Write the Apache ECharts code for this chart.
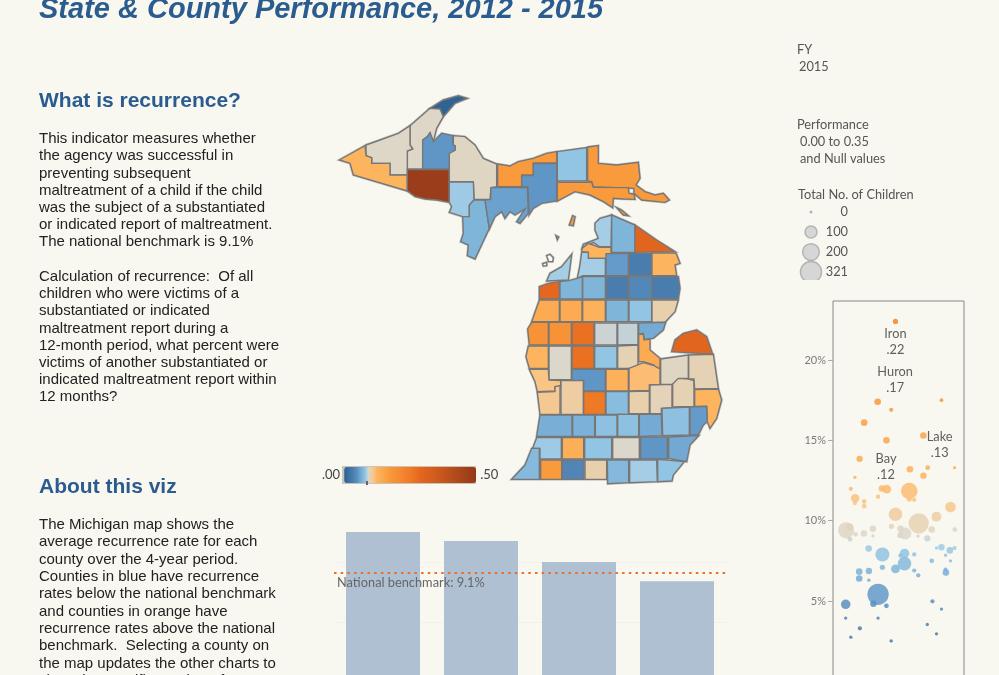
<!DOCTYPE html>
<html><head><meta charset="utf-8">
<style>html,body{margin:0;padding:0;background:#f8f7f0}#c{width:999px;height:675px}</style>
<script src="https://cdn.jsdelivr.net/npm/echarts@6/dist/echarts.min.js"></script></head>
<body><div id="c"></div>
<script>
const BG='#f8f7f0', BLUE='#2b5c8f';
// ---- text
const titleText='State & County Performance, 2012 - 2015';
const heading1='What is recurrence?', heading2='About this viz';
const para1Lines=['This indicator measures whether','the agency was successful in','preventing subsequent','maltreatment of a child if the child','was the subject of a substantiated','or indicated report of maltreatment.','The national benchmark is 9.1%','','Calculation of recurrence:  Of all','children who were victims of a','substantiated or indicated','maltreatment report during a','12-month period, what percent were','victims of another substantiated or','indicated maltreatment report within','12 months?'];
const para2Lines=['The Michigan map shows the','average recurrence rate for each','county over the 4-year period.','Counties in blue have recurrence','rates below the national benchmark','and counties in orange have','recurrence rates above the national','benchmark.  Selecting a county on','the map updates the other charts to','show the specific numbers for'];
// ---- colour scale (rate, colour)
const scaleRates=[0,.02,.035,.05,.065,.08,.086,.089,.092,.1,.11,.125,.17,.25,.29,.35,.5];
const scaleColors=['#2a5c90','#3f73a5','#4a7fb0','#5c92c3','#77aed6','#92c4e3','#a9d0e6','#d0d3ce','#dcd7cb','#e8d0ac','#fac68a','#fdb45e','#f99a3c','#ef7a26','#e4661f','#cf5a1e','#93391b'];
// ---- county rates
const countyNames=['Keweenaw','Houghton','Ontonagon','Gogebic','Iron','Baraga','Marquette','Dickinson','Menominee','Delta','Alger','Schoolcraft','Luce','Chippewa','Mackinac','Beaver Island','Bois Blanc','Emmet','Cheboygan','Presque Isle','Charlevoix','Antrim','Otsego','Montmorency','Alpena','Leelanau','Benzie','Grand Traverse','Kalkaska','Crawford','Oscoda','Alcona','Manistee','Wexford','Missaukee','Roscommon','Ogemaw','Iosco','Mason','Lake','Osceola','Clare','Gladwin','Arenac','Oceana','Newaygo','Mecosta','Isabella','Midland','Bay','Muskegon','Montcalm','Gratiot','Saginaw','Ottawa','Kent','Ionia','Clinton','Shiawassee','Genesee','Lapeer','Tuscola','Huron','Sanilac','St. Clair','Macomb','Oakland','Livingston','Ingham','Eaton','Barry','Allegan','Van Buren','Kalamazoo','Calhoun','Jackson','Washtenaw','Wayne','Berrien','Cass','St. Joseph','Branch','Hillsdale','Lenawee','Monroe'];
const countyRates=[.005,.093,.093,.125,.48,.052,.094,.083,.07,.058,.17,.052,.08,.17,.17,.17,.17,.085,.07,.3,.125,.085,.055,.032,.125,.085,.29,.07,.07,.032,.042,.032,.14,.14,.13,.07,.08,.1,.19,.19,.27,.089,.088,.063,.125,.092,.27,.08,.098,.14,.112,.052,.13,.118,.108,.103,.25,.075,.1,.097,.098,.094,.3,.098,.125,.055,.077,.063,.078,.078,.068,.066,.083,.135,.08,.092,.052,.062,.073,.17,.04,.1,.072,.085,.08];
// ---- county outlines (upper peninsula traced at origin 330,85, lower at origin 500,215; third scale)
const upperShapes={
Keweenaw:[300,70,340,45,385,32,412,40,375,55,340,95,330,72],
Houghton:[240,122,300,70,330,72,340,95,320,130,310,170,300,143,292,155,278,165,278,252,232,252,232,198,248,192,240,180],
Ontonagon:[108,180,150,165,205,145,240,122,240,180,248,192,232,198,232,270,180,270,180,235,125,235,125,218,108,212],
Gogebic:[28,225,105,182,108,212,125,218,125,235,180,235,180,270,232,270,232,318,70,270,60,235],
Iron:[232,254,358,254,358,352,320,345,285,342,255,335,232,318],
Baraga:[278,165,292,155,300,143,310,170,335,145,368,152,370,180,376,182,376,195,360,205,358,252,278,252],
Marquette:[370,152,405,155,435,180,460,220,500,237,500,305,483,308,480,343,432,343,430,290,358,290,358,205,376,195,376,182,370,180],
Dickinson:[358,291,430,291,432,345,418,360,418,395,398,395,358,382,365,365,358,352],
Menominee:[432,345,465,345,478,430,435,522,412,512,415,480,392,470,400,445,398,395,418,395,418,360],
Delta:[483,308,592,308,595,385,570,415,560,410,585,372,555,390,540,380,525,400,515,380,495,395,478,432,465,345,482,343],
Alger:[503,237,540,243,565,230,610,220,650,205,680,200,680,234,610,234,610,270,575,270,575,305,503,305],
Schoolcraft:[610,236,680,236,680,348,635,355,610,370,597,390,594,306,575,306,575,272,610,272],
Luce:[682,200,770,188,770,288,682,288],
Chippewa:[773,186,805,182,805,235,860,240,925,232,930,280,918,300,945,320,975,330,1000,325,1018,345,1005,352,935,345,912,325,912,310,790,305,785,290,773,288],
Mackinac:[682,292,785,292,790,307,895,308,897,325,912,327,915,343,880,342,850,340,848,368,820,350,780,330,735,320,682,348],
'Beaver Island':[718,420,728,392,735,395,730,422],
'Bois Blanc':[860,368,875,375,895,392,880,390]
};
const lowerShapes={
Emmet:[300,10,335,0,333,95,298,95,280,82,246,100,250,88,295,70,285,45,285,25],
Cheboygan:[335,0,405,30,405,112,335,112],
'Presque Isle':[405,30,470,75,525,110,405,112],
Charlevoix:[246,100,265,85,298,97,333,97,333,130,265,130,265,112,246,110],
Antrim:[245,112,265,112,265,130,316,130,316,182,248,182,232,190,240,150],
Otsego:[318,116,385,116,385,182,318,182],
Montmorency:[387,115,455,115,455,182,387,182],
Alpena:[456,114,528,114,540,145,525,150,530,182,456,182],
Leelanau:[140,198,150,175,185,155,215,118,205,195],
Benzie:[118,215,145,205,178,200,178,252,118,252],
'Grand Traverse':[180,200,207,197,232,190,247,185,247,252,180,252],
Kalkaska:[248,185,316,185,316,252,248,252],
Crawford:[318,185,385,185,385,252,318,252],
Oscoda:[387,185,455,185,455,252,387,252],
Alcona:[456,185,535,185,540,220,535,252,456,252],
Manistee:[95,320,118,255,178,255,178,320],
Wexford:[180,255,246,255,246,320,180,320],
Missaukee:[248,255,316,255,316,320,248,320],
Roscommon:[318,255,385,255,385,320,318,320],
Ogemaw:[387,255,455,255,455,320,387,320],
Iosco:[456,255,535,255,525,290,495,322,456,322],
Mason:[83,342,95,322,145,322,145,390,88,390],
Lake:[147,322,214,322,214,390,147,390],
Osceola:[216,322,282,322,282,390,216,390],
Clare:[284,324,351,324,351,390,284,390],
Gladwin:[353,324,414,324,414,388,353,390],
Arenac:[416,324,497,322,490,345,460,370,432,373,430,355,416,358],
Oceana:[85,393,145,393,145,460,88,460,78,425],
Newaygo:[147,393,214,393,214,494,147,494],
Mecosta:[216,393,282,393,282,460,216,460],
Isabella:[284,394,351,394,351,460,284,460],
Midland:[353,393,414,390,414,460,353,460],
Bay:[416,358,430,358,432,375,450,372,450,405,480,430,480,460,462,460,462,450,430,440,416,440],
Muskegon:[88,463,145,463,147,495,182,497,182,515,165,515,165,528,112,530,105,500],
Montcalm:[216,463,316,463,316,528,251,528,251,496,216,496],
Gratiot:[318,463,385,463,385,528,318,528],
Saginaw:[387,460,430,443,462,452,480,462,480,508,448,510,448,526,387,528],
Ottawa:[112,532,165,530,165,515,180,512,180,598,120,598],
Kent:[183,497,250,497,250,598,183,598],
Ionia:[251,530,316,530,316,598,251,598],
Clinton:[318,530,385,530,385,598,318,598],
Shiawassee:[387,530,448,528,448,596,387,596],
Genesee:[450,510,516,508,516,578,484,580,484,596,450,596],
Lapeer:[518,508,518,497,535,490,565,492,582,497,582,574,518,576],
Tuscola:[482,432,565,420,565,490,535,490,517,508,482,508],
Huron:[515,410,525,375,550,355,590,345,620,365,638,418],
Sanilac:[566,420,640,418,655,520,584,522,582,492,566,492],
'St. Clair':[584,524,655,522,665,555,650,610,630,640,622,620,620,574,584,574],
Macomb:[570,576,620,574,622,620,610,630,595,660,570,660],
Oakland:[486,580,568,576,568,660,488,662],
Livingston:[418,598,484,598,486,662,418,664],
Ingham:[353,598,416,598,416,664,353,664],
Eaton:[286,600,351,600,351,664,286,664],
Barry:[218,600,284,600,284,664,218,664],
Allegan:[120,600,216,600,216,664,110,664],
'Van Buren':[110,668,184,668,184,732,120,732,120,700,98,700],
Kalamazoo:[187,668,251,668,251,732,187,732],
Calhoun:[254,668,335,668,335,732,254,732],
Jackson:[338,668,418,668,418,732,338,732],
Washtenaw:[422,666,502,666,502,732,422,732],
Wayne:[506,666,596,662,570,690,560,740,506,730],
Berrien:[35,793,75,750,95,700,118,700,118,793],
Cass:[122,735,185,735,185,793,122,793],
'St. Joseph':[187,735,252,735,252,793,187,793],
Branch:[255,735,320,735,320,793,255,793],
Hillsdale:[322,735,386,735,386,803,323,806],
Lenawee:[389,735,470,735,472,800,389,803],
Monroe:[473,733,553,740,520,780,516,798,473,800]
};
// ---- bars
const barYears=['2012','2013','2014','2015'];
const barRates=[12.5,11.75,10,8.4];
const benchmark=9.1;
// ---- scatter (jitter %, rate %, children)
const dotJitter=[47.7,34.1,44.4,82.8,23.8,40.8,69,20.3,58.7,72.3,92.8,69,16.7,13.6,37.4,41,58.2,16.9,16.7,23.8,23.8,34.4,58.2,62,89.7,47.7,79,65.4,10,12.8,17.2,23.6,30.5,30.5,44.6,51.5,55.1,51.3,75.4,93,64.9,72,13,27.2,37.7,54.6,51.5,62,79,82.8,89.2,92.8,85.9,75.4,89.7,54.6,37.7,47.7,20,27.4,62,85.9,86.2,65.1,20,27.4,34.4,9.7,30.8,40.8,75.9,82.8,9.7,34.4,20.5,72,13.6,79,44.4];
const dotRate=[22.4,17.4,16.9,17.5,16.1,15,15.3,13.85,13.2,13.3,13.3,12.8,12.7,11.98,12,11.96,11.85,11.4,11.1,11.2,10.9,11.5,11.35,11.3,10.85,10.4,10.25,9.83,9.4,9.6,9.15,9.2,9.5,9.05,9.65,9.5,9.2,9.1,9.45,9.45,9.05,8.9,8.85,8.27,7.9,7.96,7.83,7.9,8.3,8.35,8.15,8.3,7.85,7.5,7.5,7.33,7.1,7,6.83,6.87,6.9,6.95,6.77,6.6,6.4,6.3,5.42,4.8,4.83,4.7,4.98,4.5,3.94,3.94,3.3,3.54,2.75,2.96,2.52];
const dotChildren=[10,20,4,2,20,20,20,18,20,8,0,18,0,4,20,41,160,37,5,7,7,5,10,4,63,106,53,241,153,25,7,18,18,0,10,20,83,14,20,7,1,18,7,20,113,49,5,4,0,18,20,4,0,7,0,106,10,41,20,18,4,4,20,4,20,0,270,49,18,7,4,0,0,0,4,0,0,0,0];
const dotLabels={0:'Iron\n.22',2:'Huron\n.17',9:'Lake\n.13',14:'Bay\n.12'};
const dotLabelNudge={0:[0,-2],2:[4,-6],9:[12,2],14:[4,4]};
// ---- legends
const sizeLegend=[0,100,200,321];

function hex(c){return [1,3,5].map(i=>parseInt(c.substr(i,2),16));}
function colorAt(v){
  let i=0; while(i<scaleRates.length-2&&v>scaleRates[i+1])i++;
  const t=Math.min(1,Math.max(0,(v-scaleRates[i])/(scaleRates[i+1]-scaleRates[i]))),a=hex(scaleColors[i]),b=hex(scaleColors[i+1]);
  return 'rgb('+a.map((x,k)=>Math.round(x+(b[k]-x)*t)).join(',')+')';
}
const ramp=[];for(let i=0;i<=250;i++)ramp.push(colorAt(i*.002));
const dotSize=n=>Math.sqrt(9+1.35*n);

const toRing=(a,ox,oy)=>{const r=[];for(let i=0;i<a.length;i+=2)r.push([ox+a[i]/3,oy+a[i+1]/3]);r.push(r[0]);return r;};
const features=[];
const addF=(name,ring)=>features.push({type:'Feature',properties:{name},geometry:{type:'Polygon',coordinates:[ring]}});
Object.keys(upperShapes).forEach(n=>addF(n,toRing(upperShapes[n],330,85)));
Object.keys(lowerShapes).forEach(n=>addF(n,toRing(lowerShapes[n],500,215)));
[[140,122,150,118,160,128,158,140,146,140],[128,146,140,142,140,152,130,153],[168,62,176,66,172,74]].forEach((s,i)=>addF('islet'+i,toRing(s,500,215)));
echarts.registerMap('MI',{type:'FeatureCollection',features});
let x0=1e9,x1=-1e9,y0=1e9,y1=-1e9;
features.forEach(f=>f.geometry.coordinates[0].forEach(p=>{x0=Math.min(x0,p[0]);x1=Math.max(x1,p[0]);y0=Math.min(y0,p[1]);y1=Math.max(y1,p[1]);}));
const identity={project:p=>p,unproject:p=>p};
const box={left:x0,top:y0,width:x1-x0,height:y1-y0};

const graphics=[];
const T=(text,x,y,font,fill,extra)=>graphics.push({type:'text',x,y,silent:true,style:Object.assign({text,font,fill,textVerticalAlign:'middle'},extra||{})});
T(titleText,39,10,'italic bold 29px "Liberation Sans"',BLUE);
T(heading1,39,101,'bold 21px "Liberation Sans"',BLUE);
T(heading2,39,487,'bold 21px "Liberation Sans"',BLUE);
const BODY='15px "Liberation Sans"';
para1Lines.forEach((l,i)=>T(l,39,139+i*17.22,BODY,'#222'));
para2Lines.forEach((l,i)=>T(l,39,525+i*17.3,BODY,'#222'));
const LF='12.8px Lato', LC='#555';
T('FY',797,50,LF,LC);T('2015',799,67,LF,LC);
T('Performance',797,125,LF,LC);T('0.00 to 0.35',800,142,LF,LC);T('and Null values',800,159,LF,LC);
T('Total No. of Children',798,195,LF,LC);
sizeLegend.forEach((n,i)=>{
  T(String(n),848,212+i*20,LF,LC,{textAlign:'right'});
  graphics.push({type:'circle',silent:true,shape:{cx:811,cy:212+i*20,r:dotSize(n)/2},style:{fill:n?'#d6d6d6':'#b4b4b4',stroke:'#b4b4b4',lineWidth:n?1.5:0}});
});
graphics.push({type:'rect',silent:true,shape:{x:795,y:280,width:35,height:5},style:{fill:BG}});
graphics.push({type:'rect',silent:true,z:-1,shape:{x:342,y:466,width:134,height:18},style:{fill:'#c8c4b8'}});
graphics.push({type:'rect',silent:true,z:50,shape:{x:343+132*benchmark/50-1,y:481,width:2,height:4},style:{fill:'#666'}});

const option={
  animation:false,backgroundColor:BG,
  graphic:graphics,
  geo:Object.assign({map:'MI',projection:identity,roam:false,silent:true,z:1,
    itemStyle:{areaColor:BG,borderColor:'#c9c9c5',borderWidth:2.6},label:{show:false}},box),
  visualMap:[
   {type:'continuous',seriesIndex:0,min:0,max:.5,calculable:false,orient:'horizontal',left:322,top:467,itemWidth:16,itemHeight:132,
    text:['.50','.00'],textGap:4,textStyle:{color:'#444',fontFamily:'Lato',fontSize:13},inRange:{color:ramp},hoverLink:false,padding:0},
   {type:'continuous',show:false,seriesIndex:2,dimension:1,min:0,max:50,inRange:{color:ramp}}
  ],
  grid:[
   {left:334,top:502,width:392,height:180,outerBoundsMode:'none'},
   {left:833,top:301,width:131,height:380.4,outerBoundsMode:'none',show:true,backgroundColor:'transparent',borderColor:'#888',borderWidth:1}
  ],
  xAxis:[
   {type:'category',gridIndex:0,data:barYears,show:false},
   {type:'value',gridIndex:1,min:0,max:100,show:false}
  ],
  yAxis:[
   {type:'value',gridIndex:0,min:0,max:15,interval:5,axisLine:{show:false},axisTick:{show:false},axisLabel:{show:false},
    splitLine:{show:true,showMaxLine:false,lineStyle:{color:'#f1f0ea',width:1}}},
   {type:'value',gridIndex:1,min:0,max:23.67,splitLine:{show:false},axisLine:{show:false},
    axisTick:{show:true,length:5,lineStyle:{color:'#aaa',width:1},customValues:[5,10,15,20]},
    axisLabel:{color:'#7a7a7a',fontFamily:'Lato',fontSize:11,margin:7,customValues:[5,10,15,20],formatter:'{value}%'}}
  ],
  series:[
   Object.assign({type:'map',map:'MI',projection:identity,roam:false,silent:true,z:3,
    itemStyle:{areaColor:BG,borderColor:'#777',borderWidth:1.4},label:{show:false},
    data:countyNames.map((n,i)=>({name:n,value:countyRates[i]}))},box),
   {type:'bar',xAxisIndex:0,yAxisIndex:0,barWidth:74,data:barRates,silent:true,itemStyle:{color:'#aec0d1'},
    markLine:{silent:true,symbol:'none',precision:1,data:[{yAxis:benchmark}],
     lineStyle:{color:'#e9702a',type:[2.5,4.2],width:2.2},
     label:{position:'insideStartBottom',formatter:'National benchmark: 9.1%',color:'#666',fontFamily:'Lato',fontSize:12.8,distance:[3,4]}}},
   {type:'scatter',xAxisIndex:1,yAxisIndex:1,silent:true,z:4,
    itemStyle:{opacity:.85},
    data:dotJitter.map((x,i)=>{
      const d={value:[x,dotRate[i],dotChildren[i]],symbolSize:dotSize(dotChildren[i])*1.1};
      if(dotLabels[i]){d.label={show:true,formatter:dotLabels[i],color:'#444',fontFamily:'Lato',fontSize:12.8,lineHeight:16,
        position:i===0?'bottom':'top',distance:i===0?4:6,offset:dotLabelNudge[i]};}
      return d;
    })}
  ]
};
const chart=echarts.init(document.getElementById('c'),null,{renderer:'canvas',width:999,height:675});
chart.setOption(option);
</script></body></html>
